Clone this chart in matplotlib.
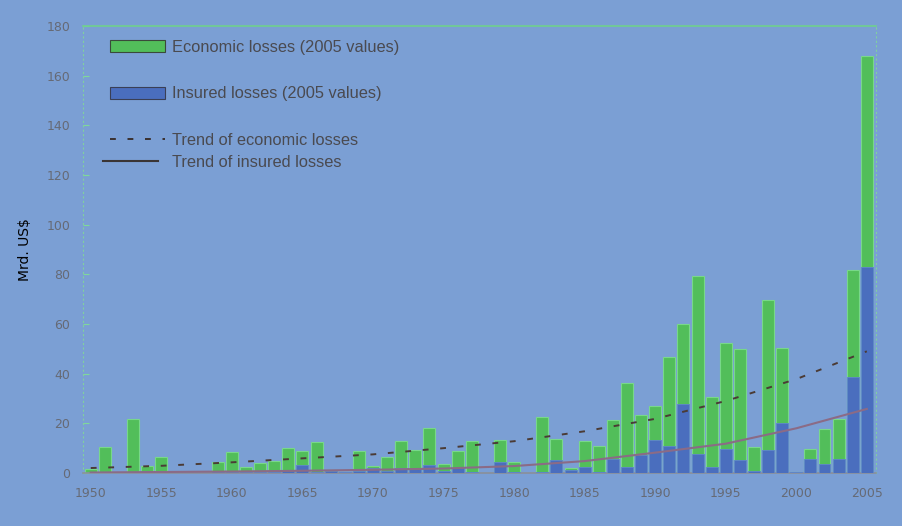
import matplotlib
matplotlib.use("Agg")
import matplotlib.pyplot as plt
from matplotlib.patches import Patch
from matplotlib.lines import Line2D

# yearly losses, billion US$ (2005 values)
years = list(range(1950, 2006))
economic = [1.5, 10.6, 0, 21.6, 2.8, 6.3, 0, 0, 0, 4.3,
            8.6, 2.5, 3.9, 5.0, 9.9, 9.0, 12.3, 1.2, 0.5, 8.7,
            2.8, 6.3, 12.9, 9.3, 18.0, 3.6, 8.9, 12.9, 0, 13.3,
            4.5, 0, 22.7, 13.7, 2.1, 12.9, 11.0, 21.3, 36.3, 23.3,
            27.1, 46.8, 59.8, 79.4, 30.5, 52.2, 49.8, 10.6, 69.6, 50.2,
            0.5, 9.5, 17.6, 21.6, 81.7, 167.8]
insured = [0, 0.3, 0, 0.5, 1.0, 0.3, 0, 0, 0, 0.3,
           0.5, 0.3, 0.3, 0.5, 0.8, 3.2, 0.5, 1.0, 0.3, 1.0,
           2.0, 1.0, 2.0, 1.5, 3.2, 1.0, 1.9, 0.5, 0, 4.5,
           0.5, 0, 0.5, 5.2, 1.2, 2.3, 0.3, 5.6, 2.3, 7.2,
           13.3, 11.0, 27.6, 7.5, 2.3, 9.7, 5.2, 1.0, 9.3, 20.0,
           0.3, 5.5, 3.5, 5.5, 38.5, 82.8]

# trend curves read every five years
trend_years = [1950, 1955, 1960, 1965, 1970, 1975, 1980, 1985, 1990, 1995, 2000, 2005]
trend_economic = [2.0, 2.9, 4.3, 5.9, 7.5, 10.0, 12.8, 16.8, 21.8, 29.0, 37.8, 49.0]
trend_insured = [0.2, 0.4, 0.6, 0.9, 1.3, 1.8, 2.8, 4.8, 8.2, 11.8, 18.0, 25.8]

xtick_years = list(range(1950, 2006, 5))
ytick_values = list(range(0, 181, 20))

bg = "#7b9fd4"
green = "#52be5a"
blue = "#4a6ebe"
grey_text = "#666a75"
legend_font = {"family": "Liberation Sans", "size": 11.8}

fig = plt.figure(figsize=(9.03, 5.26), dpi=100, facecolor=bg)
ax = fig.add_axes([83 / 903, 1 - 473 / 526, 793 / 903, 447 / 526])
ax.set_facecolor(bg)

ax.bar(years, economic, width=0.85, color=green, edgecolor="#78d88a", linewidth=0.8, zorder=2)
ax.bar(years, insured, width=0.85, color=blue, edgecolor="#5f86cc", linewidth=0.6, zorder=3)
ax.plot(trend_years, trend_economic, color="#4b3b35", lw=1.4, ls=(0, (3, 6)), zorder=4)
ax.plot(trend_years, trend_insured, color="#8b6b86", lw=1.5, zorder=4)

ax.set_xlim(1949.45, 2005.65)
ax.set_ylim(0, 180)
ax.set_xticks(xtick_years)
ax.set_yticks(ytick_values)
ax.tick_params(axis="x", length=0, pad=10, labelsize=9, labelcolor=grey_text)
ax.tick_params(axis="y", direction="in", length=4, color="#7fd89a", pad=9,
               labelsize=9, labelcolor=grey_text)

for side in ["left", "right"]:
    ax.spines[side].set_color("#80d0a0")
    ax.spines[side].set_linestyle((0, (1, 3)))
    ax.spines[side].set_linewidth(0.8)
ax.spines["top"].set_color("#6fd08e")
ax.spines["top"].set_linewidth(1.2)
ax.spines["bottom"].set_color("#8a8f9a")
ax.spines["bottom"].set_linewidth(1.2)

ax.set_ylabel("Mrd. US$", fontsize=10, color="black")
ax.yaxis.set_label_coords(-0.064, 0.5)

handles_a = [Patch(facecolor=green, edgecolor="#3a4a3a", linewidth=0.8),
             Patch(facecolor=blue, edgecolor="#3a3f55", linewidth=0.8),
             Line2D([], [], color="#3a3030", lw=1.4, ls=(0, (3, 6)))]
labels_a = ["Economic losses (2005 values)", "Insured losses (2005 values)",
            "Trend of economic losses"]
leg_a = fig.legend(handles_a, labels_a, loc="upper left",
                   bbox_to_anchor=(110 / 903, 1 - 40 / 526), frameon=False,
                   borderpad=0, borderaxespad=0, handlelength=3.35, handleheight=0.73,
                   handletextpad=0.43, labelspacing=1.92, prop=legend_font)
for t in leg_a.get_texts():
    t.set_color("#4a4a50")

leg_b = fig.legend([Line2D([], [], color="#3a3535", lw=1.5)], ["Trend of insured losses"],
                   loc="upper left", bbox_to_anchor=(103 / 903, 1 - 155 / 526),
                   frameon=False, borderpad=0, borderaxespad=0, handlelength=3.35,
                   handletextpad=0.85, prop=legend_font)
for t in leg_b.get_texts():
    t.set_color("#4a4a50")

fig.savefig("out.png", dpi=100, facecolor=bg)
